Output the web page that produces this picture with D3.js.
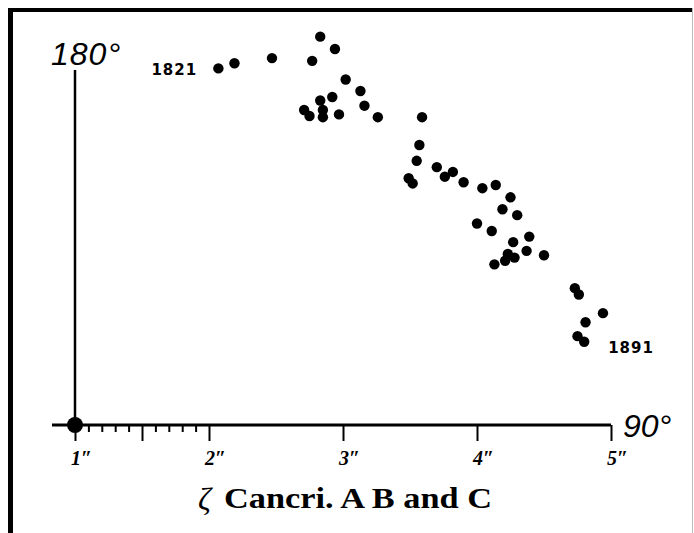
<!DOCTYPE html>
<html>
<head>
<meta charset="utf-8">
<script src="https://cdn.jsdelivr.net/npm/d3@7"></script>
<style>
  body { margin: 0; background: #fff; }
  svg { display: block; }
</style>
</head>
<body>
<script>
// separation (arcsec) and position angle (deg) of each observation
var separation = [2.07, 2.19, 2.47, 2.83, 2.94, 2.77, 3.02, 3.13, 3.16, 2.92, 2.83, 2.71, 2.75, 2.85, 2.85, 2.97, 3.26,
                  3.59, 3.57, 3.55, 3.49, 3.52, 3.70, 3.76, 3.82, 3.90, 4.04, 4.14, 4.25, 4.19, 4.30, 4.00, 4.11,
                  4.39, 4.27, 4.37, 4.23, 4.28, 4.21, 4.13, 4.50, 4.73, 4.76, 4.94, 4.81, 4.75, 4.80];
var angle = [179.9, 181.2, 182.5, 187.9, 184.8, 181.8, 177.1, 174.2, 170.5, 172.7, 171.8, 169.4, 167.9, 169.4, 167.6, 168.3, 167.6,
             167.6, 160.6, 156.6, 152.2, 150.9, 155.0, 152.6, 153.8, 151.2, 149.7, 150.5, 147.4, 144.4, 142.9, 140.8, 138.9,
             137.5, 136.1, 133.9, 133.1, 132.2, 131.4, 130.5, 132.8, 124.5, 122.9, 118.2, 115.9, 112.4, 111.0];
var xTicks = [1, 2, 3, 4, 5];
var minorTicks = [1.1, 1.2, 1.3, 1.4, 1.6, 1.7, 1.8, 1.9];
var halfTicks = [1.5];
var yearLabels = ["1821", "1891"];

var width = 694, height = 533;

var svg = d3.select('body').append('svg')
    .attr('width', width)
    .attr('height', height);

// frame
svg.append('line').attr('x1', 8).attr('x2', 692).attr('y1', 10).attr('y2', 10)
   .attr('stroke', '#000').attr('stroke-width', 4);
svg.append('line').attr('x1', 10.5).attr('x2', 10.5).attr('y1', 8).attr('y2', height)
   .attr('stroke', '#000').attr('stroke-width', 5);
svg.append('line').attr('x1', 692.5).attr('x2', 692.5).attr('y1', 8).attr('y2', height)
   .attr('stroke', '#bbb').attr('stroke-width', 1);

var x = d3.scaleLinear().domain([1, 5]).range([75, 611]);
var y = d3.scaleLinear().domain([90, 180]).range([425, 68]);

// minor ticks
var minorAxis = d3.axisBottom(x).tickValues(minorTicks).tickSize(7).tickFormat('');
svg.append('g').attr('transform', 'translate(0,' + y(90) + ')').call(minorAxis)
   .call(g => g.select('.domain').remove())
   .selectAll('line').attr('stroke', '#000').attr('stroke-width', 2);

var halfAxis = d3.axisBottom(x).tickValues(halfTicks).tickSize(16).tickFormat('');
svg.append('g').attr('transform', 'translate(0,' + y(90) + ')').call(halfAxis)
   .call(g => g.select('.domain').remove())
   .selectAll('line').attr('stroke', '#000').attr('stroke-width', 2);

// main axis
var xAxis = d3.axisBottom(x).tickValues(xTicks).tickSize(16).tickFormat(d => d + '\u2033');
var gx = svg.append('g').attr('transform', 'translate(0,' + y(90) + ')').call(xAxis);
gx.select('.domain').remove();
gx.selectAll('line').attr('stroke', '#000').attr('stroke-width', 2);
gx.selectAll('text')
  .attr('y', 40)
  .attr('dy', 0)
  .attr('dx', 6)
  .attr('fill', '#000')
  .style('font-family', '"Liberation Serif", serif')
  .style('font-style', 'italic')
  .style('font-weight', 'bold')
  .style('font-size', '20px');

svg.append('line')
   .attr('x1', 52).attr('x2', x(5)).attr('y1', y(90)).attr('y2', y(90))
   .attr('stroke', '#000').attr('stroke-width', 3);

svg.append('line')
   .attr('x1', x(1)).attr('x2', x(1)).attr('y1', y(180) + 2).attr('y2', y(90))
   .attr('stroke', '#000').attr('stroke-width', 2.5);

svg.append('circle').attr('cx', x(1)).attr('cy', y(90)).attr('r', 8).attr('fill', '#000');

// axis end labels
svg.append('text').attr('x', 51).attr('y', 65).text('180\u00b0')
   .style('font-family', '"Liberation Sans", sans-serif')
   .style('font-style', 'italic')
   .style('font-size', '32px')
   .style('letter-spacing', '1px');
svg.append('text').attr('x', 623).attr('y', 437).text('90\u00b0')
   .style('font-family', '"Liberation Sans", sans-serif')
   .style('font-style', 'italic')
   .style('font-size', '32px');

// observations
svg.selectAll('circle.obs')
   .data(separation.map((s, i) => ({ s: s, a: angle[i] })))
   .enter()
     .append('circle')
     .attr('class', 'obs')
     .attr('cx', d => x(d.s))
     .attr('cy', d => y(d.a))
     .attr('r', 5.2)
     .attr('fill', '#000');

// year labels at first and last points
var first = 0, last = separation.length - 1;
svg.append('text')
   .attr('x', x(separation[first]) - 67).attr('y', y(angle[first]) + 7)
   .text(yearLabels[0])
   .style('font-family', '"DejaVu Sans", sans-serif')
   .style('font-weight', 'bold')
   .style('font-size', '15px')
   .style('letter-spacing', '1px');
svg.append('text')
   .attr('x', x(separation[last]) + 24).attr('y', y(angle[last]) + 11)
   .text(yearLabels[1])
   .style('font-family', '"DejaVu Sans", sans-serif')
   .style('font-weight', 'bold')
   .style('font-size', '15px')
   .style('letter-spacing', '1px');

// title
svg.append('text').attr('x', 198).attr('y', 510).text('\u03b6')
   .style('font-family', '"Liberation Serif", serif')
   .style('font-style', 'italic')
   .style('font-size', '32px');
svg.append('text').attr('x', 224).attr('y', 508)
   .attr('textLength', 268).attr('lengthAdjust', 'spacingAndGlyphs')
   .text('Cancri. A B and C')
   .style('font-family', '"Liberation Serif", serif')
   .style('font-weight', 'bold')
   .style('font-size', '29px');
</script>
</body>
</html>
